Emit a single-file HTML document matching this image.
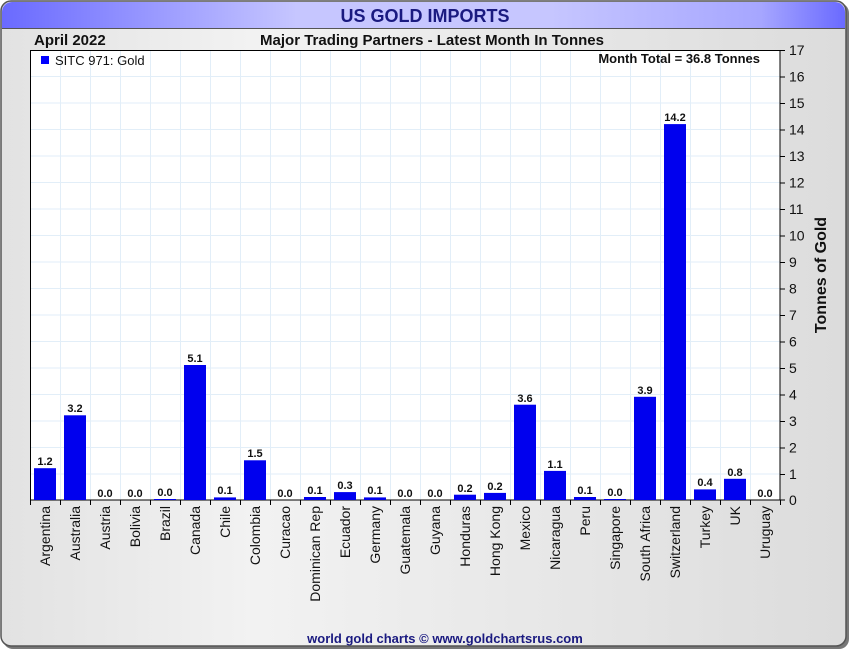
<!DOCTYPE html>
<html><head><meta charset="utf-8"><style>
html,body{margin:0;padding:0;width:850px;height:650px;overflow:hidden;background:#fff}
text{font-family:"Liberation Sans",Arial,sans-serif}
</style></head><body>
<svg width="850" height="650" viewBox="0 0 850 650" xmlns="http://www.w3.org/2000/svg">
<defs>
<linearGradient id="bg" x1="0" y1="0" x2="1" y2="0"><stop offset="0" stop-color="#e2e2e2"/><stop offset="0.3" stop-color="#f2f2f2"/><stop offset="1" stop-color="#dcdcdc"/></linearGradient>
<linearGradient id="tb" x1="0" y1="0" x2="1" y2="0"><stop offset="0" stop-color="#6a6aff"/><stop offset="0.35" stop-color="#c6c6ff"/><stop offset="0.65" stop-color="#c6c6ff"/><stop offset="0.9" stop-color="#a6a6ff"/><stop offset="1" stop-color="#6a6aff"/></linearGradient>
</defs>
<rect x="3" y="3" width="846" height="646" rx="10" fill="#777"/>
<rect x="1" y="1" width="845" height="645" rx="10" fill="url(#bg)" stroke="#555" stroke-width="1.5"/>
<path d="M2,28 V12 A10,10 0 0 1 12,2 H835 A10,10 0 0 1 845,12 V28 Z" fill="url(#tb)"/>
<line x1="2" y1="28.5" x2="845" y2="28.5" stroke="#555" stroke-width="1"/>
<text x="425" y="22" text-anchor="middle" font-size="18" font-weight="bold" fill="#1a1a80">US GOLD IMPORTS</text>
<text x="34" y="45" font-size="15" font-weight="bold" fill="#111">April 2022</text>
<text x="432" y="45" text-anchor="middle" font-size="15" font-weight="bold" fill="#111">Major Trading Partners - Latest Month In Tonnes</text>
<rect x="30" y="50" width="750" height="450" fill="#fff"/>
<g stroke="#e2eef8" stroke-width="1">
<path d="M60.5,50V500M90.5,50V500M120.5,50V500M150.5,50V500M180.5,50V500M210.5,50V500M240.5,50V500M270.5,50V500M300.5,50V500M330.5,50V500M360.5,50V500M390.5,50V500M420.5,50V500M450.5,50V500M480.5,50V500M510.5,50V500M540.5,50V500M570.5,50V500M600.5,50V500M630.5,50V500M660.5,50V500M690.5,50V500M720.5,50V500M750.5,50V500"/>
<path d="M30,76.5H780M30,103H780M30,129.5H780M30,156H780M30,182.5H780M30,209H780M30,235.5H780M30,262H780M30,288.5H780M30,315H780M30,341.5H780M30,368H780M30,394.5H780M30,421H780M30,447.5H780M30,474H780"/>
</g>
<rect x="30.5" y="50.5" width="749.5" height="449.5" fill="none" stroke="#000" stroke-width="1"/>
<rect x="41" y="56" width="8" height="8" fill="#0000ff"/>
<text x="55" y="65" font-size="13" fill="#111">SITC 971: Gold</text>
<text x="760" y="63" text-anchor="end" font-size="13" font-weight="bold" fill="#111">Month Total = 36.8 Tonnes</text>
<g fill="#0000ee">
<rect x="34" y="468.2" width="22" height="31.8"/>
<rect x="64" y="415.3" width="22" height="84.7"/>
<rect x="154" y="499" width="22" height="1"/>
<rect x="184" y="365" width="22" height="135"/>
<rect x="214" y="497.4" width="22" height="2.6"/>
<rect x="244" y="460.3" width="22" height="39.7"/>
<rect x="304" y="497" width="22" height="3"/>
<rect x="334" y="492.1" width="22" height="7.9"/>
<rect x="364" y="497.4" width="22" height="2.6"/>
<rect x="454" y="494.7" width="22" height="5.3"/>
<rect x="484" y="492.9" width="22" height="7.1"/>
<rect x="514" y="404.7" width="22" height="95.3"/>
<rect x="544" y="470.9" width="22" height="29.1"/>
<rect x="574" y="497" width="22" height="3"/>
<rect x="604" y="499" width="22" height="1"/>
<rect x="634" y="396.8" width="22" height="103.2"/>
<rect x="664" y="124.1" width="22" height="375.9"/>
<rect x="694" y="489.4" width="22" height="10.6"/>
<rect x="724" y="478.8" width="22" height="21.2"/>
</g>
<g font-size="11" font-weight="bold" fill="#111" text-anchor="middle">
<text x="45" y="465">1.2</text><text x="75" y="412">3.2</text><text x="105" y="497">0.0</text><text x="135" y="497">0.0</text><text x="165" y="496">0.0</text>
<text x="195" y="362">5.1</text><text x="225" y="494">0.1</text><text x="255" y="457">1.5</text><text x="285" y="497">0.0</text><text x="315" y="494">0.1</text>
<text x="345" y="489">0.3</text><text x="375" y="494">0.1</text><text x="405" y="497">0.0</text><text x="435" y="497">0.0</text><text x="465" y="492">0.2</text>
<text x="495" y="490">0.2</text><text x="525" y="402">3.6</text><text x="555" y="468">1.1</text><text x="585" y="494">0.1</text><text x="615" y="496">0.0</text>
<text x="645" y="394">3.9</text><text x="675" y="121">14.2</text><text x="705" y="486">0.4</text><text x="735" y="476">0.8</text><text x="765" y="497">0.0</text>
</g>
<g stroke="#000" stroke-width="1">
<path d="M30.5,500V505M60.5,500V505M90.5,500V505M120.5,500V505M150.5,500V505M180.5,500V505M210.5,500V505M240.5,500V505M270.5,500V505M300.5,500V505M330.5,500V505M360.5,500V505M390.5,500V505M420.5,500V505M450.5,500V505M480.5,500V505M510.5,500V505M540.5,500V505M570.5,500V505M600.5,500V505M630.5,500V505M660.5,500V505M690.5,500V505M720.5,500V505M750.5,500V505M780.5,500V505"/>
<path d="M780,50.5H785M780,77H785M780,103.5H785M780,130H785M780,156.5H785M780,183H785M780,209.5H785M780,236H785M780,262.5H785M780,289H785M780,315.5H785M780,342H785M780,368.5H785M780,395H785M780,421.5H785M780,448H785M780,474.5H785M780,500H785"/>
</g>
<g font-size="14" fill="#111">
<text x="789" y="55">17</text><text x="789" y="81.5">16</text><text x="789" y="108">15</text><text x="789" y="134.5">14</text><text x="789" y="161">13</text><text x="789" y="187.5">12</text><text x="789" y="214">11</text><text x="789" y="240.5">10</text>
<text x="789" y="267">9</text><text x="789" y="293.5">8</text><text x="789" y="320">7</text><text x="789" y="346.5">6</text><text x="789" y="373">5</text><text x="789" y="399.5">4</text><text x="789" y="426">3</text><text x="789" y="452.5">2</text><text x="789" y="479">1</text><text x="789" y="505">0</text>
</g>
<text transform="translate(826,275) rotate(-90)" text-anchor="middle" font-size="16" font-weight="bold" fill="#111">Tonnes of Gold</text>
<g font-size="14" fill="#111" text-anchor="end">
<text transform="translate(50,506) rotate(-90)">Argentina</text>
<text transform="translate(80,506) rotate(-90)">Australia</text>
<text transform="translate(110,506) rotate(-90)">Austria</text>
<text transform="translate(140,506) rotate(-90)">Bolivia</text>
<text transform="translate(170,506) rotate(-90)">Brazil</text>
<text transform="translate(200,506) rotate(-90)">Canada</text>
<text transform="translate(230,506) rotate(-90)">Chile</text>
<text transform="translate(260,506) rotate(-90)">Colombia</text>
<text transform="translate(290,506) rotate(-90)">Curacao</text>
<text transform="translate(320,506) rotate(-90)">Dominican Rep</text>
<text transform="translate(350,506) rotate(-90)">Ecuador</text>
<text transform="translate(380,506) rotate(-90)">Germany</text>
<text transform="translate(410,506) rotate(-90)">Guatemala</text>
<text transform="translate(440,506) rotate(-90)">Guyana</text>
<text transform="translate(470,506) rotate(-90)">Honduras</text>
<text transform="translate(500,506) rotate(-90)">Hong Kong</text>
<text transform="translate(530,506) rotate(-90)">Mexico</text>
<text transform="translate(560,506) rotate(-90)">Nicaragua</text>
<text transform="translate(590,506) rotate(-90)">Peru</text>
<text transform="translate(620,506) rotate(-90)">Singapore</text>
<text transform="translate(650,506) rotate(-90)">South Africa</text>
<text transform="translate(680,506) rotate(-90)">Switzerland</text>
<text transform="translate(710,506) rotate(-90)">Turkey</text>
<text transform="translate(740,506) rotate(-90)">UK</text>
<text transform="translate(770,506) rotate(-90)">Uruguay</text>
</g>
<text x="445" y="643" text-anchor="middle" font-size="13" font-weight="bold" fill="#1a1a80">world gold charts © www.goldchartsrus.com</text>
</svg>
</body></html>
